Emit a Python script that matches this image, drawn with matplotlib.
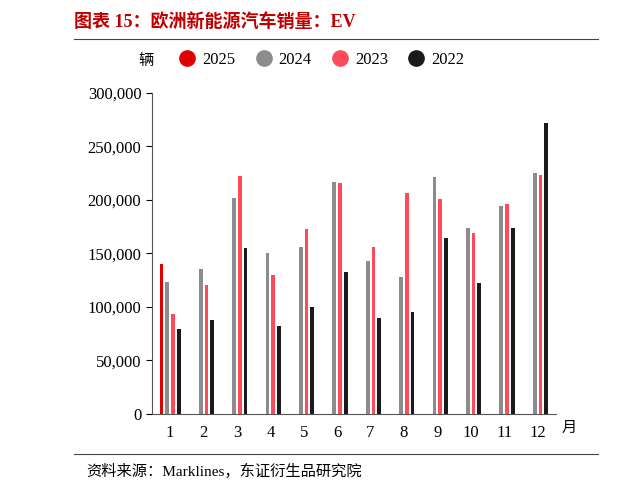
import matplotlib.pyplot as plt
from matplotlib.lines import Line2D
import numpy as np

plt.rcParams['font.family'] = ['Liberation Serif', 'Noto Sans CJK SC', 'DejaVu Sans']

months = ['1', '2', '3', '4', '5', '6', '7', '8', '9', '10', '11', '12']
sales_2025 = [140000]
sales_2024 = [123000, 135000, 202000, 150000, 156000, 217000, 143000, 128000, 221000, 174000, 194000, 225000]
sales_2023 = [93000, 120000, 222000, 130000, 173000, 216000, 156000, 206000, 201000, 169000, 196000, 223000]
sales_2022 = [79000, 88000, 155000, 82000, 100000, 133000, 90000, 95000, 164000, 122000, 174000, 272000]

colors = ['#e00000', '#8c8c8c', '#ff4a5a', '#1a1a1a']

fig = plt.figure(figsize=(6.17, 4.91), dpi=100)
ax = fig.add_axes([0.246, 0.157, 0.655, 0.654])

x = np.arange(len(months))
w = 0.11
step = 0.17
ax.bar(x[:1] - 1.5 * step, sales_2025, w, color=colors[0])
ax.bar(x - 0.5 * step, sales_2024, w, color=colors[1])
ax.bar(x + 0.5 * step, sales_2023, w, color=colors[2])
ax.bar(x + 1.5 * step, sales_2022, w, color=colors[3])

ax.set_ylim(0, 300000)
ax.set_xlim(-0.55, 11.55)
ax.set_yticks(range(0, 300001, 50000))
ax.set_yticklabels([f'{v:,}' for v in range(0, 300001, 50000)], fontsize=12)
ax.set_xticks(x)
ax.set_xticklabels(months, fontsize=12)
ax.tick_params(axis='x', length=0, pad=8)
ax.tick_params(axis='y', direction='out', length=4)
ax.spines['top'].set_visible(False)
ax.spines['right'].set_visible(False)
ax.spines['left'].set_color('#555555')
ax.spines['bottom'].set_color('#555555')

handles = [Line2D([], [], marker='o', ls='', color=c, markersize=11) for c in colors]
ax.legend(handles, ['2025', '2024', '2023', '2022'], loc='lower left',
          bbox_to_anchor=(0.03, 1.03), ncol=4, frameon=False, fontsize=12,
          handlelength=1.0, columnspacing=1.2, handletextpad=0.4)
fig.text(0.225, 0.868, '辆', fontsize=11)
fig.text(0.91, 0.12, '月', fontsize=11)

fig.text(0.12, 0.945, '图表 15：欧洲新能源汽车销量：EV', fontsize=13, color='#c00000', fontweight='bold')
fig.add_artist(Line2D([0.12, 0.97], [0.92, 0.92], color='#444444', lw=0.8))
fig.add_artist(Line2D([0.12, 0.97], [0.075, 0.075], color='#444444', lw=0.8))
fig.text(0.14, 0.03, '资料来源：Marklines，东证衍生品研究院', fontsize=11)

fig.savefig('out.png')
